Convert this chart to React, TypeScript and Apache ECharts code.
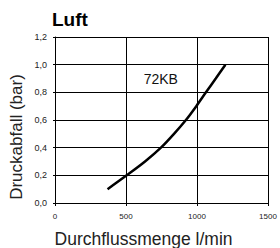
import React, { useEffect, useRef } from "react";
import * as echarts from "echarts";

const titleText = "Luft";
const xName = "Durchflussmenge l/min";
const yName = "Druckabfall (bar)";
const seriesName = "72KB";
const flow = [370, 505, 634, 746, 838, 922, 995, 1063, 1132, 1200];
const pressure = [0.1, 0.2, 0.3, 0.4, 0.5, 0.6, 0.7, 0.8, 0.9, 1.0];
const labelPos = [745, 0.9];

export default function App() {
  const ref = useRef<HTMLDivElement>(null);
  useEffect(() => {
    if (!ref.current) return;
    const chart = echarts.init(ref.current, null, { renderer: "svg" });
    const font = "'Liberation Sans', Arial, Helvetica, sans-serif";
    chart.setOption({
      animation: false,
      backgroundColor: "#fff",
      textStyle: { fontFamily: font },
      grid: { left: 55, right: 12, top: 37, bottom: 45, containLabel: false },
      xAxis: {
        type: "value",
        min: 0,
        max: 1500,
        interval: 500,
        axisLine: { show: true, lineStyle: { color: "#000", width: 1 } },
        axisTick: { show: true, length: 3, lineStyle: { color: "#000" } },
        axisLabel: {
          color: "#222",
          fontSize: 8,
          margin: 9,
          fontFamily: font,
          formatter: (v: number) => String(v),
        },
        splitLine: { show: true, lineStyle: { color: "#000", width: 1 } },
      },
      yAxis: {
        type: "value",
        min: 0,
        max: 1.2,
        interval: 0.2,
        axisLine: { show: true, lineStyle: { color: "#000", width: 1 } },
        axisTick: { show: true, length: 2, lineStyle: { color: "#000" } },
        axisLabel: {
          color: "#222",
          fontSize: 9,
          margin: 8,
          fontFamily: font,
          formatter: (v: number) => v.toFixed(1).replace(".", ","),
        },
        splitLine: { show: true, lineStyle: { color: "#000", width: 1 } },
      },
      graphic: [
        {
          type: "text",
          x: 52,
          y: 19.5,
          style: {
            text: titleText,
            fontSize: 19,
            fontWeight: "bold",
            fontFamily: font,
            fill: "#000",
            textAlign: "left",
            textVerticalAlign: "middle",
          },
        },
        {
          type: "text",
          x: 143.5,
          y: 238.5,
          style: {
            text: xName,
            fontSize: 17.5,
            fontFamily: font,
            fill: "#222",
            textAlign: "center",
            textVerticalAlign: "middle",
          },
        },
        {
          type: "text",
          x: 16,
          y: 137,
          rotation: Math.PI / 2,
          style: {
            text: yName,
            fontSize: 17,
            fontFamily: font,
            fill: "#222",
            textAlign: "center",
            textVerticalAlign: "middle",
          },
        },
      ],
      series: [
        {
          name: seriesName,
          type: "line",
          smooth: 0.3,
          symbol: "none",
          data: flow.map((x, i) => [x, pressure[i]]),
          lineStyle: { color: "#000", width: 2.5 },
          markPoint: {
            symbol: "circle",
            symbolSize: 0,
            data: [{ coord: labelPos }],
            label: {
              show: true,
              position: "inside",
              formatter: seriesName,
              color: "#111",
              fontSize: 14,
              fontFamily: font,
            },
          },
        },
      ],
    });
    return () => chart.dispose();
  }, []);
  return <div ref={ref} style={{ width: 280, height: 248, position: "absolute", left: 0, top: 0 }} />;
}
